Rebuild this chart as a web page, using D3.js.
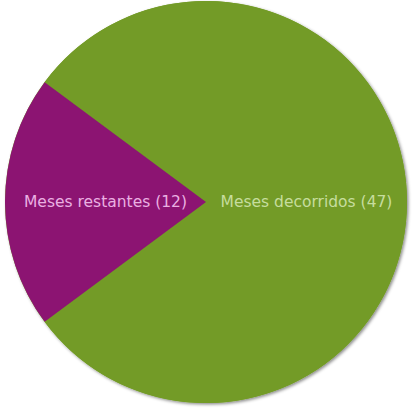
<!DOCTYPE html>
<html>
<head>
<meta charset="utf-8">
<script src="https://cdn.jsdelivr.net/npm/d3@7"></script>
<style>
  html, body { margin: 0; padding: 0; background: #fff; }
  svg { display: block; }
</style>
</head>
<body>
<svg id="chart" width="412" height="408"></svg>
<script>
const labels = ["Meses decorridos", "Meses restantes"];
const values = [47, 12];
const colors = ["#739b27", "#8c1472"];
const textColors = ["#c6dd9e", "#eab0e2"];

const svg = d3.select("#chart");
const cx = 206, cy = 202, radius = 201;

const defs = svg.append("defs");
const filter = defs.append("filter").attr("id", "shadow")
  .attr("x", "-10%").attr("y", "-10%").attr("width", "120%").attr("height", "120%");
filter.append("feDropShadow")
  .attr("dx", 1.5).attr("dy", 1.5).attr("stdDeviation", 1.5)
  .attr("flood-color", "#000").attr("flood-opacity", 0.45);

const g = svg.append("g").attr("transform", `translate(${cx}, ${cy})`);

// purple slice centred on 9 o'clock
const total = d3.sum(values);
const purpleHalf = Math.PI * values[1] / total;
const start = 1.5 * Math.PI + purpleHalf;

const pie = d3.pie().sort(null).value(d => d)
  .startAngle(start).endAngle(start + 2 * Math.PI);
const arc = d3.arc().innerRadius(0).outerRadius(radius);

const arcs = pie(values);

g.append("circle").attr("r", radius).attr("fill", colors[0])
  .attr("filter", "url(#shadow)");

g.selectAll("path.slice")
  .data(arcs)
  .enter()
  .append("path")
  .attr("class", "slice")
  .attr("d", arc)
  .attr("fill", (d, i) => colors[i]);

g.selectAll("text.label")
  .data(arcs)
  .enter()
  .append("text")
  .attr("class", "label")
  .attr("transform", d => `translate(${arc.centroid(d)})`)
  .attr("dy", "0.35em")
  .attr("text-anchor", "middle")
  .attr("fill", (d, i) => textColors[i])
  .style("font-family", "'DejaVu Sans', sans-serif")
  .style("font-size", "15.5px")
  .text((d, i) => `${labels[i]} (${values[i]})`);
</script>
</body>
</html>
